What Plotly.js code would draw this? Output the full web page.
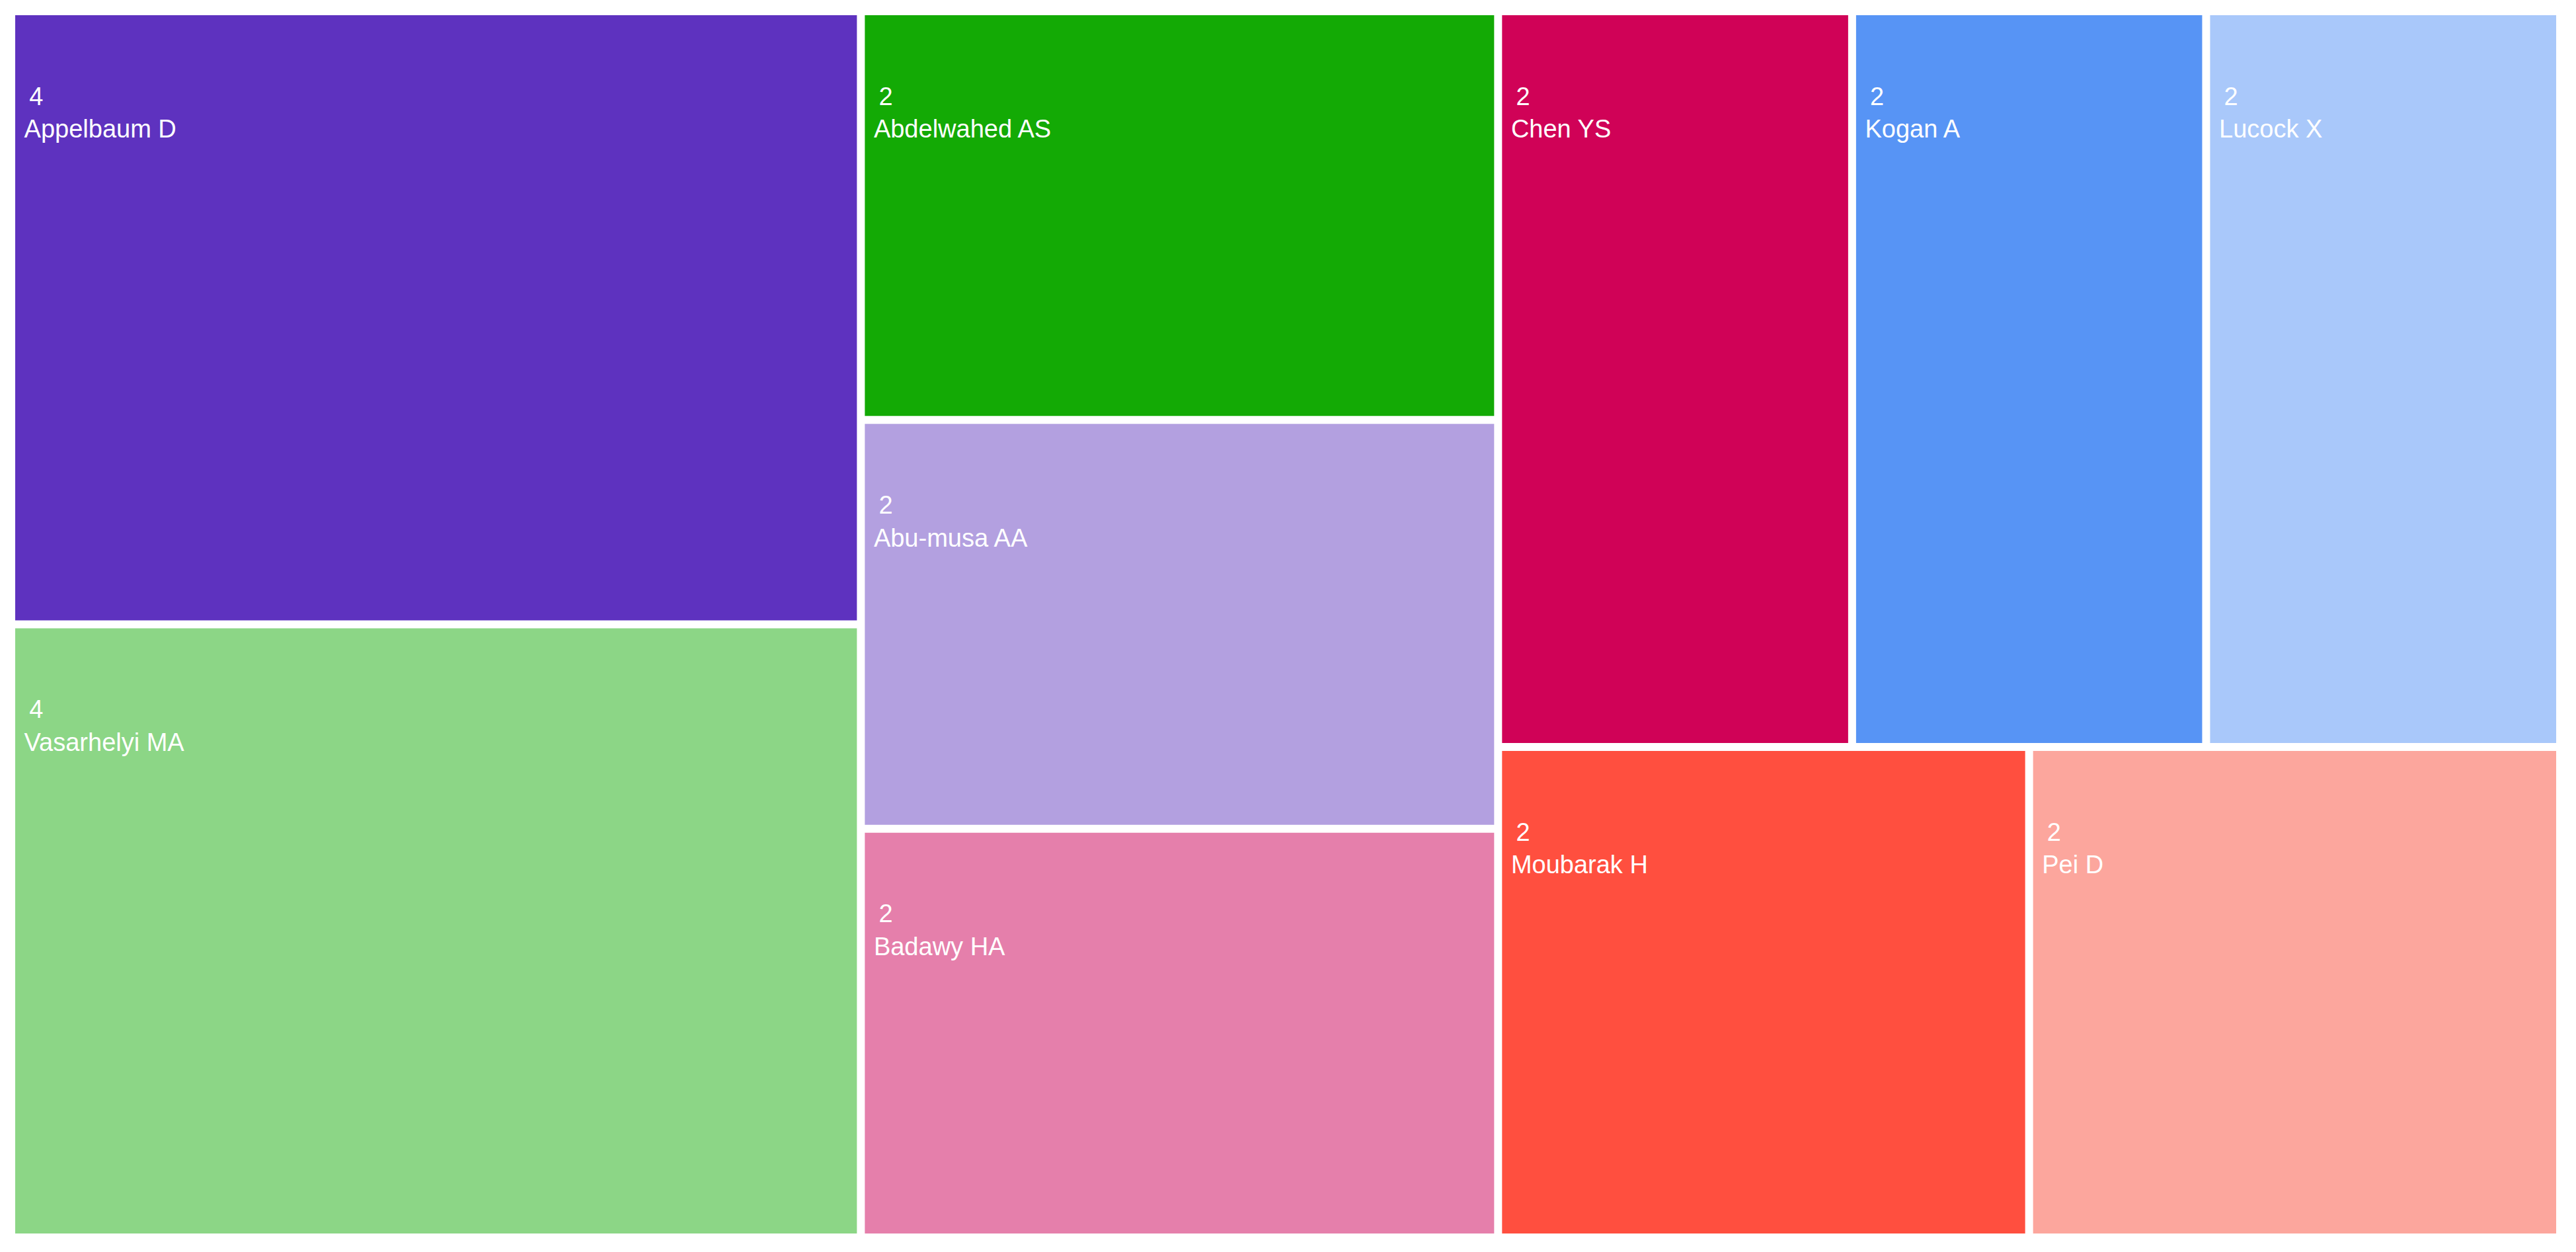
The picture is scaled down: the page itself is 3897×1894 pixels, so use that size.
<!DOCTYPE html>
<html>
<head>
<meta charset="utf-8">
<script src="https://cdn.plot.ly/plotly-3.0.1.min.js"></script>
<style>html,body{margin:0;padding:0;background:#fff;}#chart{width:3897px;height:1894px;}</style>
</head>
<body>
<div id="chart"></div>
<script>
const authors = ["Appelbaum D", "Vasarhelyi MA", "Abdelwahed AS", "Abu-musa AA", "Badawy HA", "Chen YS", "Kogan A", "Lucock X", "Moubarak H", "Pei D"];
const counts = [4, 4, 2, 2, 2, 2, 2, 2, 2, 2];
const parents = ["", "", "", "", "", "", "", "", "", ""];
const tileColors = ["#5E32BF", "#8CD686", "#13AA05", "#B3A0E0", "#E57FAB", "#D00257", "#5794F5", "#A9C8FA", "#FF4F3F", "#FCA69D"];

const trace = {
  type: "treemap",
  labels: authors,
  parents: parents,
  values: counts,
  sort: true,
  branchvalues: "total",
  texttemplate: "\u00a0<br>\u00a0<br>\u00a0\u2009%{value}<br>\u00a0%{label}",
  textposition: "top left",
  textfont: {family: "Liberation Sans, Arial, sans-serif", size: 38, color: "#ffffff"},
  hoverinfo: "label+value",
  marker: {
    colors: tileColors,
    line: {width: 0, color: "#ffffff"},
    pad: {t: 0, l: 0, r: 0, b: 0}
  },
  tiling: {packing: "squarify", squarifyratio: 1.618034, pad: 12},
  pathbar: {visible: false}
};

const layout = {
  width: 3897,
  height: 1894,
  margin: {l: 23, r: 30, t: 23, b: 28},
  paper_bgcolor: "#ffffff",
  showlegend: false
};

Plotly.newPlot("chart", [trace], layout, {displayModeBar: false, staticPlot: true});
</script>
</body>
</html>
